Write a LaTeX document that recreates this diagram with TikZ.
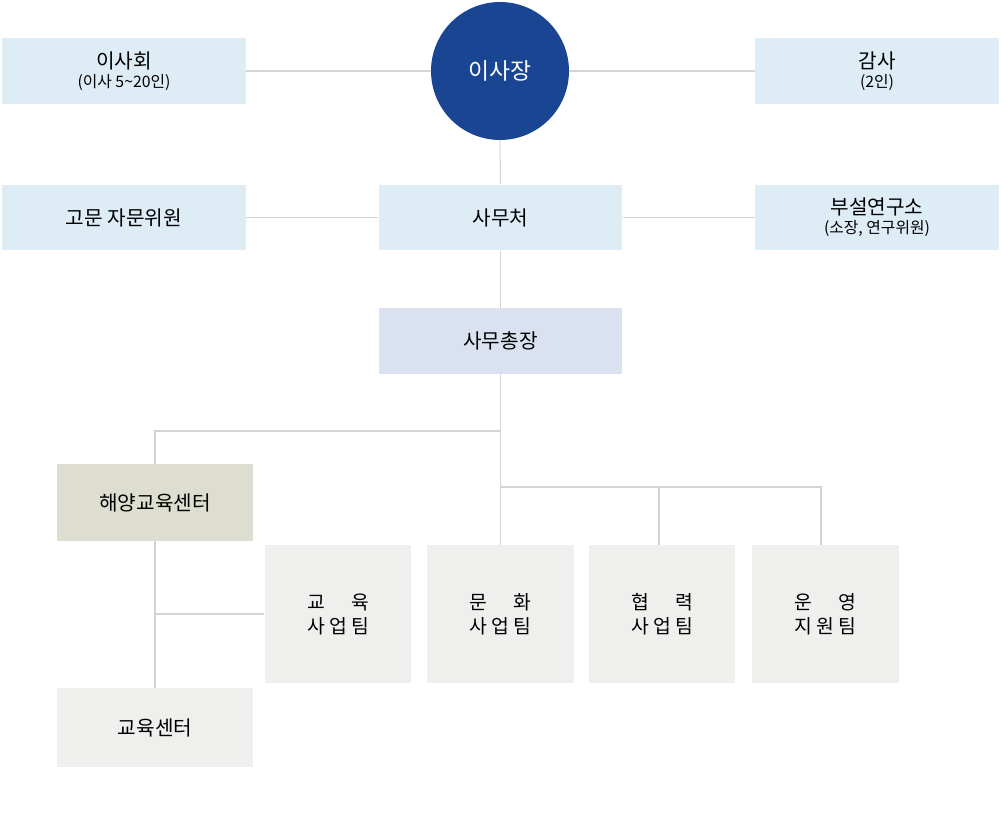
\documentclass[tikz,border=0pt]{standalone}
\usepackage{fontspec}
\setmainfont{Noto Sans CJK KR}
\usepackage{tikz}
\usetikzlibrary{positioning,calc}
\definecolor{bleuChef}{RGB}{26,69,146}
\definecolor{bleuCiel}{RGB}{222,236,245}
\definecolor{lavande}{RGB}{218,226,242}
\definecolor{olivePale}{RGB}{221,222,207}
\definecolor{grisBoite}{RGB}{239,239,237}
\definecolor{grisTrait}{RGB}{212,212,212}

\begin{document}
\begin{tikzpicture}[x=0.02cm,y=-0.02cm,font=\fontsize{11.5}{14}\selectfont,
  top/.style={rectangle,minimum width=4.88cm,minimum height=1.32cm,
              align=center,fill=bleuCiel,inner sep=0pt},
  team/.style={rectangle,minimum width=2.94cm,minimum height=2.76cm,
               align=center,fill=grisBoite,inner sep=0pt,
               font=\fontsize{11}{13.5}\selectfont},
  link/.style={grisTrait,line width=0.6pt}]
  \useasboundingbox (0,0) rectangle (1001,820);

  % Direction
  \node[circle,fill=bleuChef,minimum size=2.76cm,text=white,
        font=\fontsize{13}{15}\selectfont] (chair) at (500,71) {이사장};
  \node[top] (board) at (124,71) {이사회\\[-3pt]{\fontsize{9}{10}\selectfont (이사 5\textasciitilde20인)}};
  \node[top] (audit) at (877,71) {감사\\[-3pt]{\fontsize{9}{10}\selectfont (2인)}};

  \node[top] (advisor)     at (124,217.5) {고문 자문위원};
  \node[top] (secretariat) at (500.5,217.5) {사무처};
  \node[top] (institute)   at (877,217.5) {부설연구소\\[-3pt]{\fontsize{9}{10}\selectfont (소장, 연구위원)}};

  \node[top,fill=lavande] (secgen) at (500.5,341) {사무총장};

  % Centres
  \node[top,fill=olivePale,minimum width=3.92cm,minimum height=1.54cm] (marine) at (155,502.5) {해양교육센터};
  \node[top,fill=grisBoite,minimum width=3.92cm,minimum height=1.58cm] (educenter) at (155,727.5) {교육센터};

  % Equipes
  \node[team] (team1) at (338,614)   {교 \phantom{업} 육\\사 업 팀};
  \node[team] (team2) at (500.5,614) {문 \phantom{업} 화\\사 업 팀};
  \node[team] (team3) at (662,614)   {협 \phantom{업} 력\\사 업 팀};
  \node[team] (team4) at (825.5,614) {운 \phantom{업} 영\\지 원 팀};

  % Liaisons
  \coordinate (bj1) at (500,431);
  \coordinate (bj2) at (500,487);
  \draw[link] (board.east) -- (chair.west);
  \draw[link] (chair.east) -- (audit.west);
  \draw[link] (chair.south) -- (secretariat.north);
  \draw[link] (advisor.east) -- (secretariat.west);
  \draw[link] (secretariat.east) -- (institute.west);
  \draw[link] (secretariat.south) -- (secgen.north);
  \draw[link] (secgen.south) -- (team2.north);
  \draw[link] (bj1) -| (marine.north);
  \draw[link] (bj2) -| ([xshift=-0.06cm]team3.north);
  \draw[link] (bj2) -| ([xshift=-0.09cm]team4.north);
  \draw[link] (marine.south) -- (educenter.north);
  \draw[link] (team1.west) -- (team1.west -| marine.south);
\end{tikzpicture}
\end{document}
